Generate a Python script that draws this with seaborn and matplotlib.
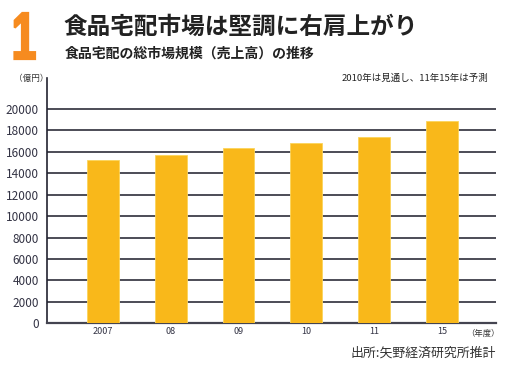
import matplotlib
matplotlib.use("Agg")
import matplotlib.pyplot as plt
import seaborn as sns
import pandas as pd
from matplotlib.textpath import TextPath
from matplotlib.patches import PathPatch
from matplotlib.font_manager import FontProperties
from matplotlib.transforms import Affine2D

# data
years = ["2007", "08", "09", "10", "11", "15"]
sales = [15200, 15700, 16400, 16800, 17400, 18900]
yticks = list(range(0, 20001, 2000))

sns.set_style("white")
plt.rcParams["font.family"] = ["Noto Sans CJK JP", "DejaVu Sans"]

df = pd.DataFrame({"year": years, "sales": sales})

fig = plt.figure(figsize=(5.09, 3.71), dpi=100)
ax = fig.add_axes([0.093, 0.1286, 0.8815, 0.6614])

sns.barplot(data=df, x="year", y="sales", color="#F9B81A", saturation=1,
            width=0.47, edgecolor="#FCD45A", linewidth=0.6, ax=ax, zorder=3)

ax.set_xlim(-0.82, 5.8)
ax.set_ylim(0, 22900)
ax.set_yticks(yticks)
ax.set_yticklabels([str(v) for v in yticks], fontsize=8.5, color="#333344")
ax.set_xticks(range(len(years)))
ax.set_xticklabels(years, fontsize=6.5, color="#333344")
ax.tick_params(axis="both", length=0, pad=3)
ax.tick_params(axis="y", pad=6)
ax.set_xlabel("")
ax.set_ylabel("")

for v in yticks[1:]:
    ax.axhline(v, color="#2e2e3a", linewidth=1.2, zorder=1)

for s in ["top", "right"]:
    ax.spines[s].set_visible(False)
ax.spines["left"].set_color("#222230")
ax.spines["left"].set_linewidth(1.2)
ax.spines["bottom"].set_color("#444450")
ax.spines["bottom"].set_linewidth(1.6)

# big condensed "1" - squeeze the glyph into its box
one = TextPath((0, 0), "1", size=10,
               prop=FontProperties(family="Liberation Sans", weight="bold"))
ext = one.get_extents()
x0, x1, y0, y1 = 0.145, 0.35, 3.12, 3.58  # inches
tr = (Affine2D().translate(-ext.x0, -ext.y0)
      .scale((x1 - x0) / ext.width, (y1 - y0) / ext.height)
      .translate(x0, y0) + fig.dpi_scale_trans)
fig.patches.append(PathPatch(one, transform=tr, facecolor="#F68B1F",
                             edgecolor="#F68B1F", linewidth=1.6,
                             joinstyle="miter", figure=fig))

# header
fig.text(63 / 509, 1 - 27 / 371, "食品宅配市場は堅調に右肩上がり", fontsize=17,
         fontweight="bold", color="#222222", va="center", ha="left")
fig.text(65 / 509, 1 - 54 / 371, "食品宅配の総市場規模（売上高）の推移", fontsize=10,
         fontweight="bold", color="#222222", va="center", ha="left")
fig.text(14 / 509, 1 - 78 / 371, "（億円）", fontsize=6.2, color="#333333",
         va="center", ha="left")
fig.text(488 / 509, 1 - 78 / 371, "2010年は見通し、11年15年は予測", fontsize=6.8,
         color="#222222", va="center", ha="right")
fig.text(500 / 509, 1 - 333 / 371, "（年度）", fontsize=6, color="#333333",
         va="center", ha="right")
fig.text(496 / 509, 1 - 353 / 371, "出所:矢野経済研究所推計", fontsize=9.3,
         color="#333333", va="center", ha="right")

fig.savefig("out.png", dpi=100)
